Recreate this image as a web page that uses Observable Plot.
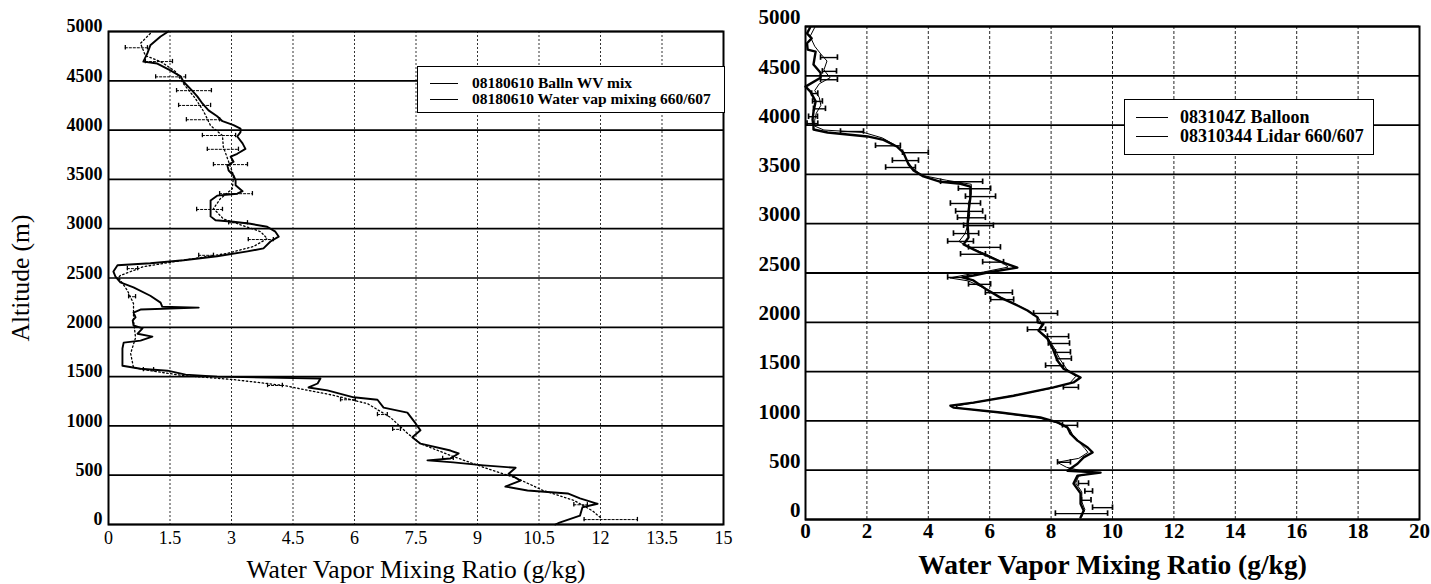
<!DOCTYPE html>
<html>
<head>
<meta charset="utf-8">
<script src="https://cdn.jsdelivr.net/npm/d3@7"></script>
<script src="https://cdn.jsdelivr.net/npm/@observablehq/plot@0.6"></script>
<style>
  html, body { margin: 0; padding: 0; background: #fff; }
  body { width: 1431px; height: 584px; position: relative; overflow: hidden;
         font-family: "Liberation Serif", "Times New Roman", serif; color: #000; }
  #left, #right { position: absolute; top: 0; }
  #left { left: 0; }
  #right { left: 740px; }
  .legend { position: absolute; background: #fff; border: 1.6px solid #000; box-sizing: border-box;
            font-weight: bold; white-space: nowrap; }
  .legend .sw { position: absolute; border-top: 1.6px solid #000; }
  .legend .lb { position: absolute; transform: translateY(-50%); line-height: 1; }
</style>
</head>
<body>
<div id="left"></div>
<div id="right"></div>
<script>
// ---------------- data ----------------
const altTicks = [0, 500, 1000, 1500, 2000, 2500, 3000, 3500, 4000, 4500, 5000];
const leftXTicks = [0, 1.5, 3, 4.5, 6, 7.5, 9, 10.5, 12, 13.5, 15];
const rightXTicks = [0, 2, 4, 6, 8, 10, 12, 14, 16, 18, 20];

const leftLegend = ["08180610 Balln WV mix", "08180610 Water vap mixing 660/607"];
const rightLegend = ["083104Z Balloon", "08310344 Lidar 660/607"];
const xTitle = "Water Vapor Mixing Ratio (g/kg)";
const yTitle = "Altitude (m)";

// [mixing ratio g/kg, altitude m]
const leftBalloon = [[1.46,5000],[1.27,4950],[1.02,4860],[0.95,4780],[0.85,4695],[1.19,4675],[1.51,4605],[1.76,4545],[1.83,4490],[2.04,4400],[2.17,4340],[2.29,4270],[2.44,4200],[2.65,4140],[2.78,4090],[3.05,4050],[3.22,4015],[3.22,3980],[3.14,3935],[3.27,3865],[3.34,3810],[3.14,3760],[2.98,3730],[3.05,3680],[2.90,3640],[2.93,3590],[3.05,3540],[3.10,3490],[3.10,3440],[3.27,3380],[3.14,3355],[2.65,3335],[2.49,3285],[2.49,3205],[2.49,3125],[2.61,3085],[3.05,3070],[3.46,3050],[3.87,3020],[4.07,2970],[4.15,2920],[3.95,2870],[3.78,2800],[3.39,2770],[2.65,2720],[1.83,2680],[1.02,2650],[0.22,2630],[0.12,2565],[0.17,2515],[0.29,2455],[0.61,2405],[1.02,2320],[1.27,2250],[1.31,2210],[2.20,2200],[0.78,2180],[0.61,2150],[0.66,2100],[0.59,2070],[0.61,2020],[0.83,1990],[0.71,1935],[1.07,1905],[0.78,1865],[0.37,1845],[0.34,1785],[0.34,1695],[0.34,1610],[0.78,1580],[1.44,1560],[1.88,1520],[2.65,1500],[3.87,1490],[5.17,1480],[5.10,1430],[4.88,1390],[5.34,1360],[5.98,1290],[6.56,1265],[6.71,1185],[7.29,1135],[7.49,1025],[7.61,955],[7.41,885],[7.61,820],[8.34,750],[8.54,720],[8.34,670],[7.78,650],[8.41,630],[9.15,600],[9.93,575],[9.76,515],[10.05,445],[9.68,385],[10.22,345],[11.2,315],[11.5,265],[11.93,210],[11.56,175],[11.5,90],[11.0,20],[10.9,0]];

const leftLidar = [[1.02,4980],[0.78,4880],[0.9,4755],[1.27,4695],[1.63,4595],[1.83,4470],[2.12,4320],[2.32,4190],[2.49,4045],[2.78,3945],[2.8,3830],[2.93,3680],[3.05,3540],[3.02,3405],[2.73,3305],[2.56,3205],[2.8,3100],[3.29,3030],[3.71,2970],[3.87,2900],[3.54,2820],[2.9,2750],[1.83,2680],[0.85,2615],[0.29,2525],[0.24,2505],[0.46,2375],[0.61,2240],[0.61,2070],[0.66,1895],[0.54,1735],[0.61,1590],[1.02,1560],[1.83,1510],[3.05,1470],[4.27,1410],[5.49,1310],[6.32,1225],[6.88,1085],[7.29,925],[7.61,820],[8.34,700],[9.15,580],[9.98,465],[10.6,345],[11.35,245],[11.8,140],[12.0,70]];

// [altitude, low, high]
const leftErrors = [[4835,0.41,0.95],[4695,0.9,1.56],[4540,1.15,1.88],[4400,1.66,2.51],[4250,1.71,2.49],[4105,1.90,2.71],[3945,2.29,3.10],[3805,2.41,3.17],[3650,2.56,3.39],[3355,2.71,3.51],[3195,2.15,2.78],[3060,2.93,3.39],[2890,3.41,4.02],[2730,2.2,2.56],[2595,0.46,0.71],[2310,0.49,0.66],[1570,0.85,1.10],[1410,3.88,4.24],[1265,5.66,6.02],[1115,6.56,6.80],[965,6.93,7.12],[670,8.15,8.41],[200,11.35,11.68],[50,11.6,12.9]];

const rightBalloon = [[0.15,4990],[0.05,4930],[0.2,4880],[0.05,4830],[0.07,4765],[0.33,4745],[0.26,4615],[0.49,4530],[0.49,4480],[0.0,4390],[0.16,4340],[0.33,4240],[0.26,4135],[0.23,4055],[0.26,3990],[0.26,3955],[0.72,3925],[2.02,3885],[2.54,3850],[2.99,3780],[3.19,3720],[3.26,3670],[3.36,3600],[3.52,3540],[3.84,3480],[4.40,3425],[5.05,3405],[5.37,3375],[5.37,3265],[5.31,3125],[5.28,2990],[5.31,2860],[5.15,2790],[5.47,2740],[5.80,2690],[6.35,2615],[6.9,2555],[5.93,2505],[5.47,2475],[5.11,2455],[5.47,2425],[5.86,2340],[6.35,2250],[6.78,2190],[7.23,2120],[7.56,2050],[7.56,2000],[7.75,1985],[7.59,1915],[7.88,1835],[8.05,1735],[8.21,1610],[8.40,1530],[8.96,1440],[8.73,1390],[8.08,1340],[6.78,1255],[5.47,1185],[4.72,1155],[4.82,1135],[6.35,1085],[7.65,1035],[8.21,985],[8.53,935],[8.63,870],[8.86,800],[9.19,730],[9.35,680],[9.06,630],[8.86,565],[8.53,495],[9.61,475],[8.86,445],[8.73,365],[8.96,265],[8.96,160],[9.06,90],[8.96,20]];

const rightLidar = [[0.3,4990],[0.15,4900],[0.3,4800],[0.5,4720],[0.7,4650],[0.6,4560],[0.8,4480],[0.45,4420],[0.3,4350],[0.45,4280],[0.5,4200],[0.35,4120],[0.3,4050],[0.3,3990],[0.6,3950],[1.9,3925],[2.5,3870],[2.9,3800],[3.2,3720],[3.3,3640],[3.5,3560],[3.8,3490],[4.6,3440],[5.4,3400],[5.4,3300],[5.3,3200],[5.35,3100],[5.3,3000],[5.2,2900],[5.0,2820],[5.4,2750],[5.9,2690],[6.4,2610],[6.6,2560],[5.8,2510],[5.2,2480],[4.7,2450],[5.3,2420],[5.8,2350],[6.3,2260],[6.8,2190],[7.3,2110],[7.6,2040],[7.7,1980],[7.6,1920],[7.9,1840],[8.1,1740],[8.3,1620],[8.5,1530],[8.8,1450],[8.6,1380],[8.0,1330],[6.8,1260],[5.6,1190],[4.9,1150],[5.0,1130],[6.4,1080],[7.6,1030],[8.2,980],[8.6,920],[8.7,860],[8.9,790],[9.1,720],[9.2,680],[8.9,620],[8.2,580],[8.5,530],[9.3,470],[8.9,440],[8.8,370],[9.0,280],[9.0,180],[9.1,100],[9.0,30]];

const rightErrors = [[4685,0.49,1.04],[4545,0.55,1.01],[4460,0.49,1.04],[4320,0.2,0.4],[4240,0.23,0.55],[4165,0.26,0.65],[4085,0.1,0.39],[4015,0.05,0.4],[3935,1.14,1.89],[3790,2.28,3.09],[3720,3.16,4.0],[3640,2.83,3.68],[3570,2.61,3.58],[3425,4.4,5.77],[3355,4.98,6.03],[3275,5.21,6.19],[3205,4.72,5.7],[3125,4.89,5.77],[3060,4.95,5.86],[2980,5.15,6.12],[2900,4.82,5.64],[2820,4.63,5.47],[2760,5.31,6.35],[2690,5.05,5.86],[2610,5.77,6.45],[2455,4.63,5.28],[2385,5.31,6.03],[2300,5.86,6.74],[2230,6.03,6.78],[2090,7.43,8.21],[1925,7.23,7.82],[1855,7.88,8.57],[1785,7.91,8.6],[1695,8.14,8.63],[1630,8.18,8.66],[1560,7.82,8.4],[1340,8.4,8.89],[955,8.37,8.86],[580,8.21,8.63],[365,8.89,9.22],[285,9.1,9.35],[195,8.99,9.3],[120,9.35,10.0],[60,8.14,9.84]];

// ---------------- drawing ----------------
const fmt = d => String(d);
const caps = errs => errs.flatMap(([a, lo, hi]) => [{x: lo, a}, {x: hi, a}]);

function errorMarks(errs, sw, dash, capHalf) {
  return [
    Plot.ruleY(errs, {y: d => d[0], x1: d => d[1], x2: d => d[2], stroke: "#000", strokeWidth: sw, strokeDasharray: dash}),
    Plot.ruleX(caps(errs), {x: "x", y1: d => d.a - capHalf, y2: d => d.a + capHalf, stroke: "#000", strokeWidth: sw + 0.3})
  ];
}

const font = "'Liberation Serif', 'Times New Roman', serif";

const left = Plot.plot({
  width: 740, height: 584,
  marginLeft: 108, marginRight: 17, marginTop: 31, marginBottom: 60,
  x: {domain: [0, 15], axis: null},
  y: {domain: [0, 5000], axis: null},
  style: {fontFamily: font, background: "#fff", color: "#000", overflow: "visible"},
  marks: [
    Plot.gridX(leftXTicks, {stroke: "#000", strokeOpacity: 0.8, strokeWidth: 1, strokeDasharray: "2,2"}),
    Plot.gridY(altTicks, {stroke: "#000", strokeOpacity: 1, strokeWidth: 1.7}),
    Plot.axisX(leftXTicks, {tickSize: 0, tickPadding: 7, fontSize: 18, tickFormat: fmt, label: null}),
    Plot.axisY(altTicks, {tickSize: 0, tickPadding: 6, fontSize: 18, fontWeight: "bold", dy: -5, tickFormat: fmt, label: null}),
    ...errorMarks(leftErrors, 1, "3,1", 22),
    Plot.line(leftLidar, {x: d => d[0], y: d => d[1], stroke: "#000", strokeWidth: 1.3, strokeDasharray: "1.5,2.5"}),
    Plot.line(leftBalloon, {x: d => d[0], y: d => d[1], stroke: "#000", strokeWidth: 1.9}),
    Plot.frame({stroke: "#000", strokeWidth: 2}),
    Plot.text([xTitle], {text: d => d, frameAnchor: "bottom", textAnchor: "middle", lineAnchor: "middle", dy: 45, fontSize: 25.5}),
    Plot.text([yTitle], {text: d => d, frameAnchor: "left", textAnchor: "middle", lineAnchor: "middle", dx: -88, rotate: -90, fontSize: 25.5})
  ]
});
document.getElementById("left").appendChild(left);

const right = Plot.plot({
  width: 691, height: 584,
  marginLeft: 65, marginRight: 12, marginTop: 26, marginBottom: 65,
  x: {domain: [0, 20], axis: null},
  y: {domain: [0, 5000], axis: null},
  style: {fontFamily: font, background: "#fff", color: "#000", overflow: "visible"},
  marks: [
    Plot.gridX(rightXTicks, {stroke: "#000", strokeOpacity: 0.85, strokeWidth: 1, strokeDasharray: "3,2"}),
    Plot.gridY(altTicks, {stroke: "#000", strokeOpacity: 1, strokeWidth: 1.8}),
    Plot.axisX(rightXTicks, {tickSize: 0, tickPadding: 4, fontSize: 21, fontWeight: "bold", tickFormat: fmt, label: null}),
    Plot.axisY(altTicks, {tickSize: 0, tickPadding: 5, fontSize: 21, fontWeight: "bold", dy: -9, tickFormat: fmt, label: null}),
    ...errorMarks(rightErrors, 1.4, null, 28),
    Plot.line(rightLidar, {x: d => d[0], y: d => d[1], stroke: "#000", strokeWidth: 1}),
    Plot.line(rightBalloon, {x: d => d[0], y: d => d[1], stroke: "#000", strokeWidth: 2.4}),
    Plot.frame({stroke: "#000", strokeWidth: 2}),
    Plot.text([xTitle], {text: d => d, frameAnchor: "bottom", textAnchor: "middle", lineAnchor: "middle", dy: 46, fontSize: 27.5, fontWeight: "bold"})
  ]
});
document.getElementById("right").appendChild(right);

// ---------------- legends ----------------
function legend(labels, box, swX, swW, txtX, rowsY, fontSize, widths) {
  const div = document.createElement("div");
  div.className = "legend";
  Object.assign(div.style, {left: box[0] + "px", top: box[1] + "px", width: box[2] + "px", height: box[3] + "px"});
  labels.forEach((t, i) => {
    const sw = document.createElement("div");
    sw.className = "sw";
    Object.assign(sw.style, {left: swX + "px", width: swW + "px", top: rowsY[i] + "px", borderTopWidth: widths[i] + "px"});
    const lb = document.createElement("div");
    lb.className = "lb";
    lb.textContent = t;
    Object.assign(lb.style, {left: txtX + "px", top: rowsY[i] + "px", fontSize: fontSize + "px"});
    div.appendChild(sw); div.appendChild(lb);
  });
  document.body.appendChild(div);
}
legend(leftLegend, [417, 66, 308, 47], 12, 28, 54, [15.5, 31.5], 15.5, [1.6, 1.1]);
legend(rightLegend, [1124, 99, 250, 56], 11, 32, 55, [17, 36], 18, [1.6, 1.1]);
</script>
</body>
</html>
